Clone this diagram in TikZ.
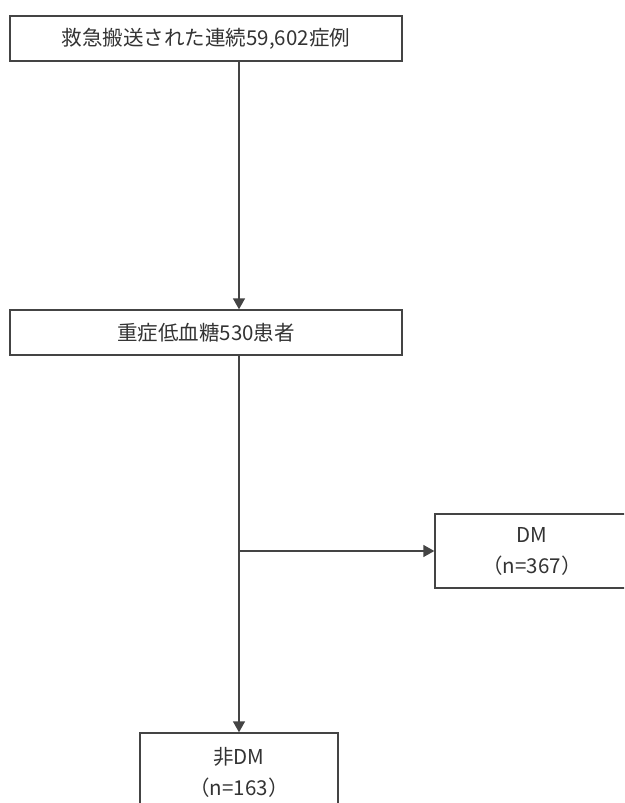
\documentclass[tikz,border=0pt]{standalone}
\usepackage{fontspec}
\setmainfont{Noto Sans CJK JP}
\usetikzlibrary{arrows.meta}
\definecolor{linec}{HTML}{444444}
\definecolor{textc}{HTML}{333333}
\tikzset{
  box/.style={draw=linec, line width=1.4pt, rectangle, inner sep=0pt, text=textc,
    font=\fontsize{20.5}{31}\selectfont, align=center},
  conn/.style={draw=linec, line width=1.4pt},
  arr/.style={conn, -{Triangle[width=12pt,length=11pt]}}
}
\begin{document}
\begin{tikzpicture}[x=1pt,y=-1pt]
\clip (0,0) rectangle (624,803);
\fill[white] (0,0) rectangle (624,803);
\node[box, minimum width=392pt, minimum height=45pt] (b1) at (206,38.5) {救急搬送された連続59,602症例};
\node[box, minimum width=392pt, minimum height=45pt] (b2) at (206,332.5) {重症低血糖530患者};
\node[box, minimum width=194pt, minimum height=74pt] (dm) at (532,551) {DM\\（n=367）};
\node[box, minimum width=198pt, minimum height=79pt] (ndm) at (239,772.5) {非DM\\（n=163）};
\coordinate (br) at (ndm.north |- dm.west);
\draw[arr] (b1.south -| ndm.north) -- (b2.north -| ndm.north);
\draw[arr] (b2.south -| ndm.north) -- (ndm.north);
\draw[arr] (br) -- (dm.west);
\end{tikzpicture}
\end{document}
